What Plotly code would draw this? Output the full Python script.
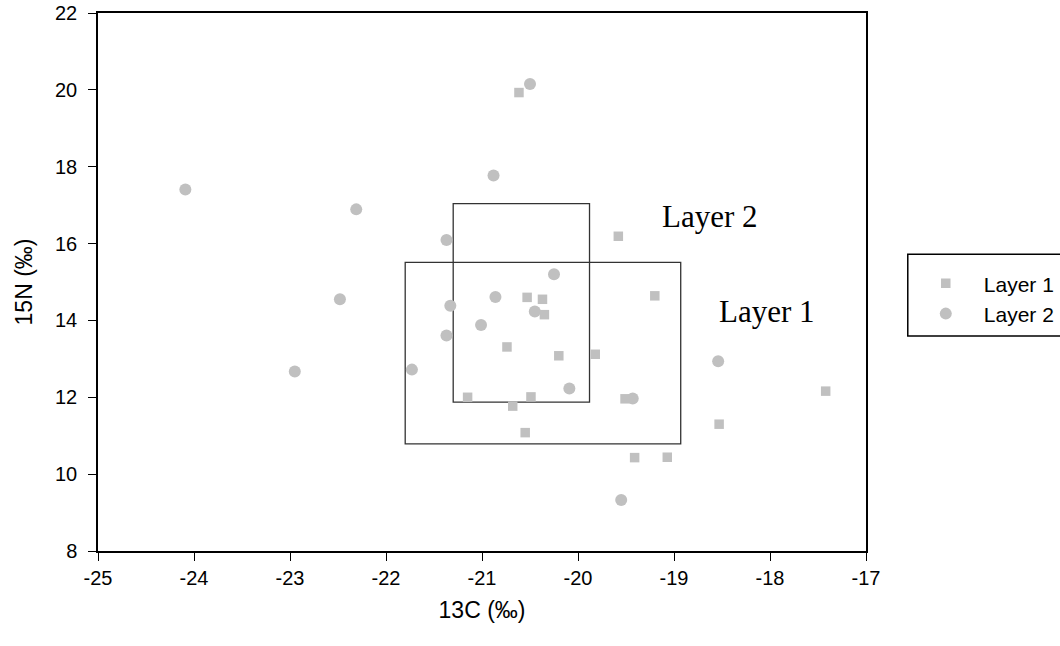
import plotly.graph_objects as go

# ---- data ----
layer1_x = [-20.615, -19.58, -20.53, -20.37, -20.35, -19.20, -20.74, -20.20, -19.82,
            -21.15, -20.49, -20.68, -19.51, -20.55, -19.41, -19.07, -17.42, -18.53]
layer1_y = [19.93, 16.19, 14.60, 14.55, 14.15, 14.64, 13.31, 13.08, 13.12,
            12.00, 12.01, 11.77, 11.96, 11.08, 10.43, 10.44, 12.16, 11.30]

layer2_x = [-20.50, -20.88, -21.37, -24.09, -22.31, -22.48, -22.95, -20.25, -20.86,
            -21.33, -20.45, -21.01, -21.37, -21.73, -20.09, -19.43, -18.54, -19.55]
layer2_y = [20.15, 17.77, 16.09, 17.41, 16.89, 14.55, 12.67, 15.20, 14.61,
            14.38, 14.23, 13.88, 13.61, 12.72, 12.23, 11.97, 12.94, 9.33]

# boxes: [x0, x1, y0, y1]
box_layer1 = [-21.80, -18.93, 10.79, 15.51]
box_layer2 = [-21.30, -19.88, 11.875, 17.04]

series_names = ["Layer 1", "Layer 2"]
x_ticks = [-25, -24, -23, -22, -21, -20, -19, -18, -17]
x_ticktext = ["-25", "-24", "-23", "-22", "-21", "-20", "-19", "-18", "-17"]
y_ticks = [8, 10, 12, 14, 16, 18, 20, 22]
y_ticktext = ["8", "10", "12", "14", "16", "18", "20", "22"]

MARKER_COLOR = "#c0c0c0"
SANS = "Liberation Sans, Arial, sans-serif"
SERIF = "Liberation Serif, Times New Roman, serif"

fig = go.Figure()
fig.add_trace(go.Scatter(x=layer1_x, y=layer1_y, mode="markers", name=series_names[0],
                         marker=dict(symbol="square", size=9.5, color=MARKER_COLOR)))
fig.add_trace(go.Scatter(x=layer2_x, y=layer2_y, mode="markers", name=series_names[1],
                         marker=dict(symbol="circle", size=12, color=MARKER_COLOR)))

for b in (box_layer1, box_layer2):
    fig.add_shape(type="rect", xref="x", yref="y", x0=b[0], x1=b[1], y0=b[2], y1=b[3],
                  line=dict(color="#333333", width=1.3), fillcolor="rgba(0,0,0,0)", layer="below")

# box labels
fig.add_annotation(x=-18.03, y=14.22, xref="x", yref="y", text="Layer 1", showarrow=False,
                   font=dict(family=SERIF, size=31, color="black"))
fig.add_annotation(x=-18.63, y=16.71, xref="x", yref="y", text="Layer 2", showarrow=False,
                   font=dict(family=SERIF, size=31, color="black"))

# legend frame
fig.add_shape(type="rect", xref="paper", yref="paper", x0=1.0544, x1=1.26, y0=0.3994, y1=0.5517,
              line=dict(color="black", width=1.5), fillcolor="rgba(0,0,0,0)")

axis_common = dict(showline=True, linecolor="black", linewidth=1.5, mirror=True,
                   ticks="outside", ticklen=8, tickwidth=1.2, tickcolor="black",
                   showgrid=False, zeroline=False,
                   tickfont=dict(family=SANS, size=20, color="black"))

fig.update_layout(
    width=1060, height=646,
    margin=dict(l=98, r=194, t=13, b=95, autoexpand=False),
    paper_bgcolor="white", plot_bgcolor="white",
    xaxis=dict(range=[-25, -17], tickvals=x_ticks, ticktext=x_ticktext,
               title=dict(text="13C (‰)", font=dict(family=SANS, size=23, color="black"), standoff=14),
               **axis_common),
    yaxis=dict(range=[8, 22], tickvals=y_ticks, ticktext=y_ticktext, ticklabelstandoff=7,
               title=dict(text="15N (‰)", font=dict(family=SANS, size=23, color="black"), standoff=16),
               **axis_common),
    showlegend=True,
    legend=dict(x=1.0544, xanchor="left", y=0.535, yanchor="top",
                itemwidth=66, bgcolor="rgba(0,0,0,0)", borderwidth=0,
                font=dict(family=SANS, size=21, color="black"), tracegroupgap=0),
)

fig.write_html("out.html")
